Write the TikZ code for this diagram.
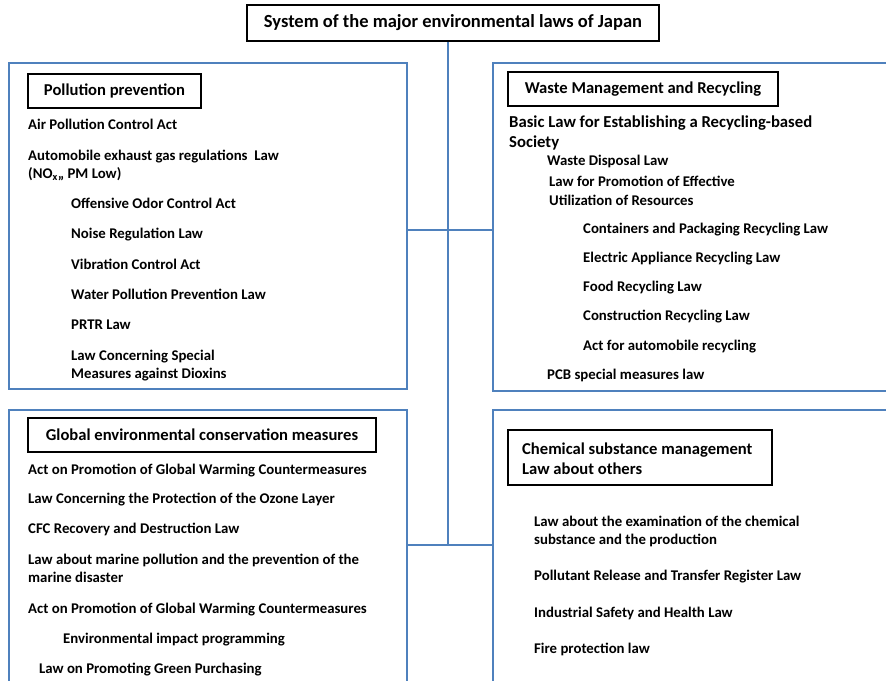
\documentclass[tikz,border=0pt]{standalone}
\usepackage{fontspec}
\setmainfont{Carlito}
\definecolor{boxblue}{HTML}{4F81BD}
\begin{document}
\begin{tikzpicture}[x=1pt,y=-1pt,
  bluebox/.style={draw=boxblue, line width=1.5pt, inner sep=0pt, anchor=north west},
  blackbox/.style={draw=black, line width=1.5pt, inner sep=0pt},
  conn/.style={draw=boxblue, line width=1.5pt},
  law/.style={anchor=base west, inner sep=0pt, font=\bfseries\fontsize{14.8}{17}\selectfont},
  biglaw/.style={anchor=base west, inner sep=0pt, font=\bfseries\fontsize{16.7}{19}\selectfont},
  headfont/.style={font=\bfseries\fontsize{16.6}{19}\selectfont},
  titlefont/.style={font=\bfseries\fontsize{18.5}{21}\selectfont}]
\useasboundingbox (0,0) rectangle (886,680);
\fill[white] (0,0) rectangle (886,680);
\clip (0,0) rectangle (886,680);

% main title
\node[blackbox, titlefont, minimum width=412pt, minimum height=36pt] (title) at (453,23) {System of the major environmental laws of Japan};

% big boxes
\node[bluebox, minimum width=398pt, minimum height=326pt] (pp) at (8,62) {};
\node[bluebox, minimum width=420pt, minimum height=328pt] (wm) at (492,62) {};
\node[bluebox, minimum width=398pt, minimum height=300pt] (ge) at (8,409) {};
\node[bluebox, minimum width=420pt, minimum height=300pt] (cs) at (492,409) {};

% connectors
\coordinate (j1) at (448,230);
\coordinate (j2) at (448,545);
\draw[conn] (title.south -| j1) -- (j2);
\draw[conn] (pp.east |- j1) -- (wm.west |- j1);
\draw[conn] (ge.east |- j2) -- (cs.west |- j2);

% Pollution prevention
\node[blackbox, headfont, minimum width=173pt, minimum height=34pt] (ppt) at (114.5,91) {Pollution prevention};
\node[law] (pp1) at (28,129) {Air Pollution Control Act};
\node[law] (pp2) at (28,160) {Automobile exhaust gas regulations\ \ Law};
\node[law] (pp2b) at (28,178) {(NO\textsubscript{x},, PM Low)};
\node[law] (pp3) at (71,208) {Offensive Odor Control Act};
\node[law] (pp4) at (71,238) {Noise Regulation Law};
\node[law] (pp5) at (71,269) {Vibration Control Act};
\node[law] (pp6) at (71,299) {Water Pollution Prevention Law};
\node[law] (pp7) at (71,329) {PRTR Law};
\node[law] (pp8) at (71,360) {Law Concerning Special};
\node[law] (pp8b) at (71,378) {Measures against Dioxins};

% Waste Management and Recycling
\node[blackbox, headfont, minimum width=270pt, minimum height=34pt] (wmt) at (643,89) {Waste Management and Recycling};
\node[biglaw] (wm1) at (509,127) {Basic Law for Establishing a Recycling-based};
\node[biglaw] (wm1b) at (509,147) {Society};
\node[law] (wm2) at (547,165) {Waste Disposal Law};
\node[law] (wm3) at (549,186) {Law for Promotion of Effective};
\node[law] (wm3b) at (549,205) {Utilization of Resources};
\node[law] (wm4) at (583,233) {Containers and Packaging Recycling Law};
\node[law] (wm5) at (583,262) {Electric Appliance Recycling Law};
\node[law] (wm6) at (583,291) {Food Recycling Law};
\node[law] (wm7) at (583,320) {Construction Recycling Law};
\node[law] (wm8) at (583,350) {Act for automobile recycling};
\node[law] (wm9) at (547,379) {PCB special measures law};

% Global environmental conservation measures
\node[blackbox, headfont, minimum width=348pt, minimum height=34pt] (get) at (202,435) {Global environmental conservation measures};
\node[law] (ge1) at (28,474) {Act on Promotion of Global Warming Countermeasures};
\node[law] (ge2) at (28,503) {Law Concerning the Protection of the Ozone Layer};
\node[law] (ge3) at (28,533) {CFC Recovery and Destruction Law};
\node[law] (ge4) at (28,564) {Law about marine pollution and the prevention of the};
\node[law] (ge4b) at (28,582) {marine disaster};
\node[law] (ge5) at (28,613) {Act on Promotion of Global Warming Countermeasures};
\node[law] (ge6) at (63,643) {Environmental impact programming};
\node[law] (ge7) at (39,673) {Law on Promoting Green Purchasing};

% Chemical substance management
\node[blackbox, minimum width=264pt, minimum height=55pt] (cst) at (640,457.5) {};
\node[inner sep=0pt, headfont, anchor=base west] (cst1) at (522,454) {Chemical substance management};
\node[inner sep=0pt, headfont, anchor=base west] (cst2) at (522,474) {Law about others};
\node[law] (cs1) at (534,526) {Law about the examination of the chemical};
\node[law] (cs1b) at (534,544) {substance and the production};
\node[law] (cs2) at (534,580) {Pollutant Release and Transfer Register Law};
\node[law] (cs3) at (534,617) {Industrial Safety and Health Law};
\node[law] (cs4) at (534,653) {Fire protection law};
\end{tikzpicture}
\end{document}
